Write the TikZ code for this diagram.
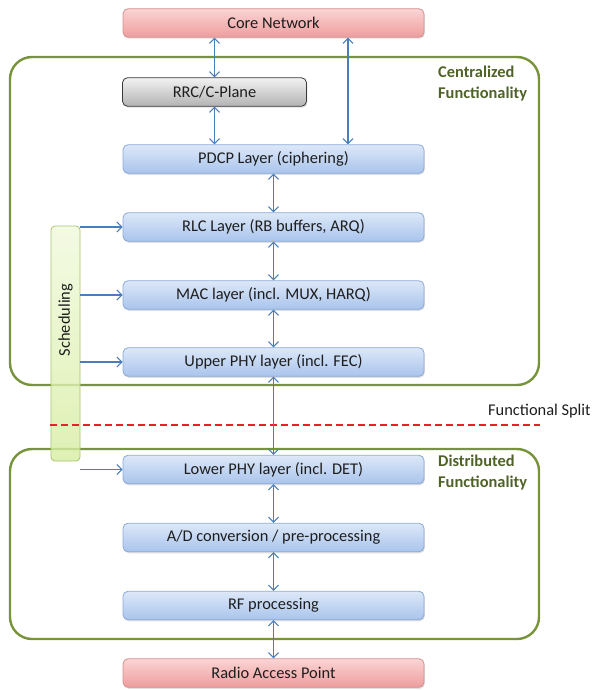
\documentclass[tikz,border=0pt]{standalone}
\usepackage{fontspec}
\setmainfont{Carlito}
\usetikzlibrary{arrows.meta,shadows,calc}
\definecolor{bluetop}{HTML}{DDE8F8}
\definecolor{bluebot}{HTML}{A9C4EC}
\definecolor{blueedge}{HTML}{8AA9D6}
\definecolor{redtop}{HTML}{FBD4D4}
\definecolor{redbot}{HTML}{EE9D9D}
\definecolor{rededge}{HTML}{D48E8E}
\definecolor{graytop}{HTML}{F2F2F2}
\definecolor{graybot}{HTML}{B3B3B3}
\definecolor{grayedge}{HTML}{3A3A3A}
\definecolor{schedtop}{HTML}{F1F9DC}
\definecolor{schedbot}{HTML}{D6EDA2}
\definecolor{schededge}{HTML}{A8C46E}
\definecolor{olive}{HTML}{77933C}
\definecolor{olivetext}{HTML}{4F6228}
\definecolor{arrowblue}{HTML}{4A7EBB}
\definecolor{splitred}{HTML}{E8202A}
\definecolor{txt}{HTML}{1E1E1E}
\tikzset{
  base/.style={font=\fontsize{16.4}{19.7}\selectfont, text=txt},
  layerbox/.style={base, rounded corners=5pt, draw=blueedge, line width=0.8pt,
     top color=bluetop, bottom color=bluebot, minimum width=301pt, minimum height=28.5pt,
     inner sep=0pt, drop shadow={shadow xshift=0.8pt, shadow yshift=-1.5pt, opacity=0.25}},
  redbox/.style={layerbox, draw=rededge, top color=redtop, bottom color=redbot},
  graybox/.style={layerbox, draw=grayedge, top color=graytop, bottom color=graybot, minimum width=184pt},
  schedbox/.style={rounded corners=4pt, draw=schededge, line width=0.8pt, fill opacity=0.8,
     top color=schedtop, bottom color=schedbot, minimum width=29pt, minimum height=235pt, inner sep=0pt},
  region/.style={draw=olive, line width=2.4pt, rounded corners=22pt},
  regionlabel/.style={font=\fontsize{16.4}{20.5}\selectfont\bfseries, text=olivetext, align=left, anchor=north west, inner sep=0pt},
  link/.style={draw=arrowblue, line width=1.1pt, {Straight Barb[length=5pt,width=10pt]}-{Straight Barb[length=5pt,width=10pt]}},
  onelink/.style={draw=arrowblue, line width=1.1pt, -{Straight Barb[length=5pt,width=10pt]}}
}
\begin{document}
\begin{tikzpicture}[x=1pt,y=-1pt]
\useasboundingbox (0,0) rectangle (592,690);
% regions
\draw[region] (10,57) rectangle (539,385);
\draw[region] (10,449) rectangle (539,639);
\node[regionlabel] (centl) at (438,66) {Centralized\\Functionality};
\node[regionlabel] (distl) at (438,455) {Distributed\\Functionality};
% boxes
\node[redbox] (core) at (273.5,23) {Core Network};
\node[graybox] (rrc) at (214.5,92) {RRC/C-Plane};
\node[layerbox] (pdcp) at (273.5,159) {PDCP Layer (ciphering)};
\node[layerbox] (rlc) at (273.5,227) {RLC Layer (RB buffers, ARQ)};
\node[layerbox] (mac) at (273.5,295) {MAC layer (incl. MUX, HARQ)};
\node[layerbox] (uphy) at (273.5,362) {Upper PHY layer (incl. FEC)};
\node[layerbox] (lphy) at (273.5,469.5) {Lower PHY layer (incl. DET)};
\node[layerbox] (ad) at (273.5,537.5) {A/D conversion / pre-processing};
\node[layerbox] (rf) at (273.5,605.5) {RF processing};
\node[redbox] (rap) at (273.5,673) {Radio Access Point};
% scheduling
\node[schedbox] (sched) at (65.5,343.5) {};
\node[base, rotate=90] (schedtext) at (65.5,320) {Scheduling};
% split
\coordinate (splitL) at (50,425);
\coordinate (splitR) at (540,425);
\draw[splitred, line width=2.6pt, dash pattern=on 7pt off 4pt] (splitL) -- (splitR);
\node[base, anchor=west, inner sep=0pt] (splitlabel) at (488,411) {Functional Split};
% links
\coordinate (cx) at (348,0);
\draw[link] (core.south -| rrc.south) -- (rrc.north);
\draw[link] (core.south -| cx) -- (pdcp.north -| cx);
\draw[link] (rrc.south) -- (pdcp.north -| rrc.south);
\draw[link] (pdcp.south) -- (rlc.north);
\draw[link] (rlc.south) -- (mac.north);
\draw[link] (mac.south) -- (uphy.north);
\draw[link] (uphy.south) -- (lphy.north);
\draw[link] (lphy.south) -- (ad.north);
\draw[link] (ad.south) -- (rf.north);
\draw[link] (rf.south) -- (rap.north);
% scheduling arrows
\draw[onelink] (sched.east |- rlc.west) -- (rlc.west);
\draw[onelink] (sched.east |- mac.west) -- (mac.west);
\draw[onelink] (sched.east |- uphy.west) -- (uphy.west);
\draw[onelink] (sched.east |- lphy.west) -- (lphy.west);
\end{tikzpicture}
\end{document}
